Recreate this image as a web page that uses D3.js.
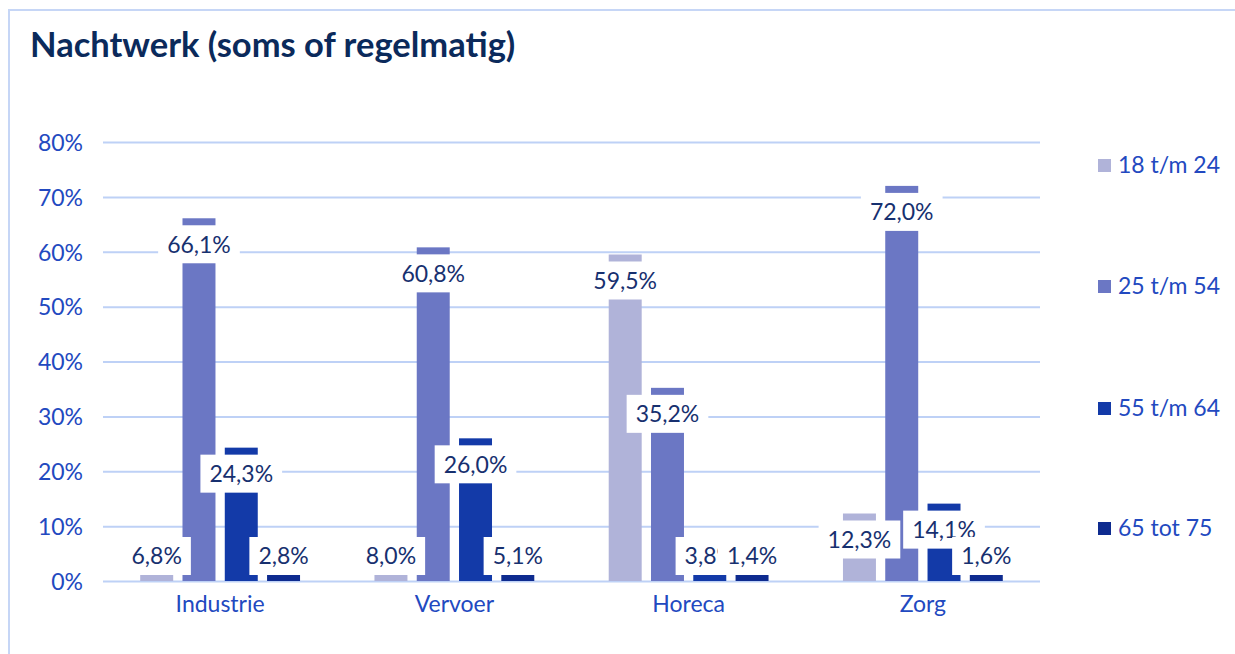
<!DOCTYPE html>
<html><head><meta charset="utf-8">
<script src="https://cdn.jsdelivr.net/npm/d3@7"></script>
<style>
html,body{margin:0;padding:0;background:#fff;}
svg{display:block;font-family:Lato,"Open Sans",sans-serif;}
</style></head>
<body>
<svg id="chart" width="1235" height="654"></svg>
<script>
const title = "Nachtwerk (soms of regelmatig)";
const categories = ["Industrie","Vervoer","Horeca","Zorg"];
const series = ["18 t/m 24","25 t/m 54","55 t/m 64","65 tot 75"];
const v18_24 = [6.8, 8.0, 59.5, 12.3];
const v25_54 = [66.1, 60.8, 35.2, 72.0];
const v55_64 = [24.3, 26.0, 3.8, 14.1];
const v65_75 = [2.8, 5.1, 1.4, 1.6];
const yTicks = [0,10,20,30,40,50,60,70,80];
const colors = ["#b0b3d9","#6b77c4","#133aa8","#0e2b8f"];

const values = [v18_24, v25_54, v55_64, v65_75];
const svg = d3.select("#chart");
const W = 1235, H = 654;
const m = {left:103, right:1040, top:142, bottom:581};

// frame
svg.append("path").attr("d", `M${W},10 H9 V${H}`).attr("fill","none")
  .attr("stroke","#c6d6f6").attr("stroke-width",2);

svg.append("text").attr("x",30).attr("y",57).text(title)
  .attr("font-size",34.5).attr("font-weight",700).attr("fill","#0b2a5b");

const y = d3.scaleLinear().domain([0,80]).range([m.bottom,m.top]);
const x0 = d3.scaleBand().domain(categories).range([m.left,m.right]).padding(0);
const x1 = d3.scaleBand().domain(series).range([0,x0.bandwidth()]).paddingInner(0.22).paddingOuter(0.88);

// grid
const yAxis = d3.axisLeft(y).tickValues(yTicks).tickSize(-(m.right-m.left)).tickPadding(20)
  .tickFormat(d => d + "%");
const ga = svg.append("g").attr("transform",`translate(${m.left},0)`).call(yAxis);
ga.select(".domain").remove();
ga.selectAll(".tick line").attr("stroke","#bed1f6").attr("stroke-width",2);
ga.selectAll(".tick text").attr("font-size",23).attr("fill","#2249c0")
  .attr("font-family","Lato, sans-serif").attr("dy","0.36em");

// bars
const data = [];
series.forEach((s,i) => categories.forEach((c,j) => data.push({s, c, v: values[i][j], i})));
svg.append("g").selectAll("rect").data(data).join("rect")
  .attr("x", d => x0(d.c) + x1(d.s))
  .attr("width", x1.bandwidth())
  .attr("y", d => y(d.v))
  .attr("height", d => y(0) - y(d.v))
  .attr("fill", d => colors[d.i]);

// x labels
const xAxis = d3.axisBottom(x0).tickSize(0).tickPadding(15);
const gx = svg.append("g").attr("transform",`translate(0,${m.bottom})`).call(xAxis);
gx.select(".domain").remove();
gx.selectAll(".tick text").attr("font-size",23).attr("fill","#2249c0").attr("font-family","Lato, sans-serif");

// data labels with white boxes
const fmt = v => v.toFixed(1).replace(".", ",") + "%";
const lg = svg.append("g");
data.forEach(d => {
  const cx = x0(d.c) + x1(d.s) + x1.bandwidth()/2;
  const cy = Math.min(y(d.v) + 26, y(0) - 25);
  const g = lg.append("g");
  const t = g.append("text").attr("x",cx).attr("y",cy).attr("dy","0.36em")
    .attr("text-anchor","middle").attr("font-size",23).attr("fill","#17306f").text(fmt(d.v));
  const bb = t.node().getBBox();
  g.insert("rect","text").attr("x",bb.x-9).attr("y",cy-19).attr("width",bb.width+18).attr("height",38).attr("fill","#fff");
});

// legend
const legY = [165, 286, 408, 528];
const leg = svg.append("g");
series.forEach((s,i) => {
  leg.append("rect").attr("x",1098).attr("y",legY[i]-6).attr("width",13).attr("height",13).attr("fill",colors[i]);
  leg.append("text").attr("x",1118).attr("y",legY[i]).attr("dy","0.36em").attr("font-size",23)
    .attr("fill","#2249c0").text(s);
});
</script>
</body></html>
